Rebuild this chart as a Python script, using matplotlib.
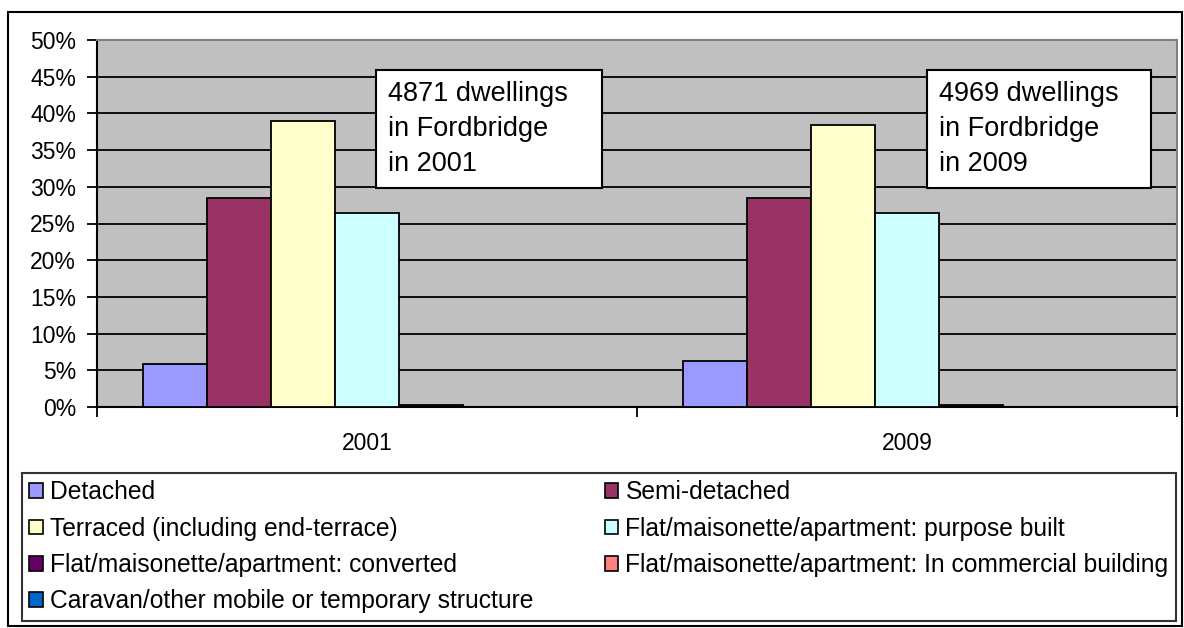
import matplotlib.pyplot as plt
import numpy as np
from matplotlib.patches import Patch, Rectangle

plt.rcParams['font.family'] = ['Liberation Sans', 'DejaVu Sans']

years = ['2001', '2009']
types = ['Detached', 'Semi-detached', 'Terraced (including end-terrace)',
         'Flat/maisonette/apartment: purpose built',
         'Flat/maisonette/apartment: converted',
         'Flat/maisonette/apartment: In commercial building',
         'Caravan/other mobile or temporary structure']
colors = ['#9999FF', '#993366', '#FFFFCC', '#CCFFFF', '#660066', '#FF8080', '#0066CC']
share_2001 = [5.9, 28.5, 39.0, 26.4, 0.3, 0.0, 0.0]
share_2009 = [6.3, 28.5, 38.4, 26.4, 0.3, 0.0, 0.0]
notes = ['4871 dwellings\nin Fordbridge\nin 2001', '4969 dwellings\nin Fordbridge\nin 2009']

W, H = 1184, 628
fig = plt.figure(figsize=(W / 100, H / 100), dpi=100)


def fx(px):
    return px / W


def fy(py):
    return 1 - py / H


# outer chart frame
fig.patches.append(Rectangle((fx(8), fy(626)), fx(1182) - fx(8), fy(12) - fy(626),
                             transform=fig.transFigure, fill=False, ec='black', lw=1.5))

ax = fig.add_axes([fx(97), fy(407), fx(1177) - fx(97), fy(40) - fy(407)])
ax.set_facecolor('#C0C0C0')

x = np.arange(len(years))
n = len(types)
w = 1 / (n + 1.45)
data = np.array([share_2001, share_2009])
for i in range(n):
    ax.bar(x + (i - (n - 1) / 2) * w, data[:, i], width=w, color=colors[i],
           edgecolor='black', linewidth=1.3, zorder=3)

ax.set_xlim(-0.5, 1.5)
ax.set_ylim(0, 50)
ax.set_yticks(range(0, 51, 5))
ax.set_yticklabels([f'{v}%' for v in range(0, 51, 5)], fontsize=16.5)
ax.yaxis.grid(True, color='black', linewidth=1.3)
ax.set_axisbelow(True)

ax.set_xticks([-0.5, 0.5, 1.5])
ax.set_xticklabels([])
ax.set_xticks(x, minor=True)
ax.set_xticklabels(years, minor=True, fontsize=16.5)
ax.tick_params(axis='x', which='major', direction='out', length=7, width=1.3)
ax.tick_params(axis='x', which='minor', length=0, pad=18)
ax.tick_params(axis='y', direction='out', length=7, width=1.3, pad=8)

for side in ['left', 'bottom']:
    ax.spines[side].set_color('black')
    ax.spines[side].set_linewidth(1.5)
for side in ['top', 'right']:
    ax.spines[side].set_color('#808080')
    ax.spines[side].set_linewidth(1.5)

# text boxes with dwelling counts
boxes = [(376, 70, 602, 188), (927, 70, 1151, 188)]
for (x0, y0, x1, y1), note in zip(boxes, notes):
    fig.patches.append(Rectangle((fx(x0), fy(y1)), fx(x1) - fx(x0), fy(y0) - fy(y1),
                                 transform=fig.transFigure, fc='white', ec='black',
                                 lw=1.5, zorder=5))
    fig.text(fx(x0 + 12), fy(y0 + 11), note, fontsize=19.5, va='top', ha='left',
             linespacing=1.45, zorder=6)

# legend, Excel fills rows first so reorder for matplotlib's column filling
handles = [Patch(facecolor=c, edgecolor='black', linewidth=1.2) for c in colors]
order = [0, 2, 4, 6, 1, 3, 5]
leg = fig.legend([handles[k] for k in order], [types[k] for k in order],
                 loc='upper left', ncol=2, mode='expand',
                 bbox_to_anchor=(fx(22), fy(623), fx(1176) - fx(22), fy(473) - fy(623)),
                 fontsize=17.7, frameon=True, fancybox=False, edgecolor='black',
                 borderpad=0.3, labelspacing=0.5, handlelength=0.55, handleheight=0.55,
                 handletextpad=0.3, borderaxespad=0, columnspacing=1.0)
leg.get_frame().set_linewidth(1.5)

fig.savefig('out.png', dpi=100)
